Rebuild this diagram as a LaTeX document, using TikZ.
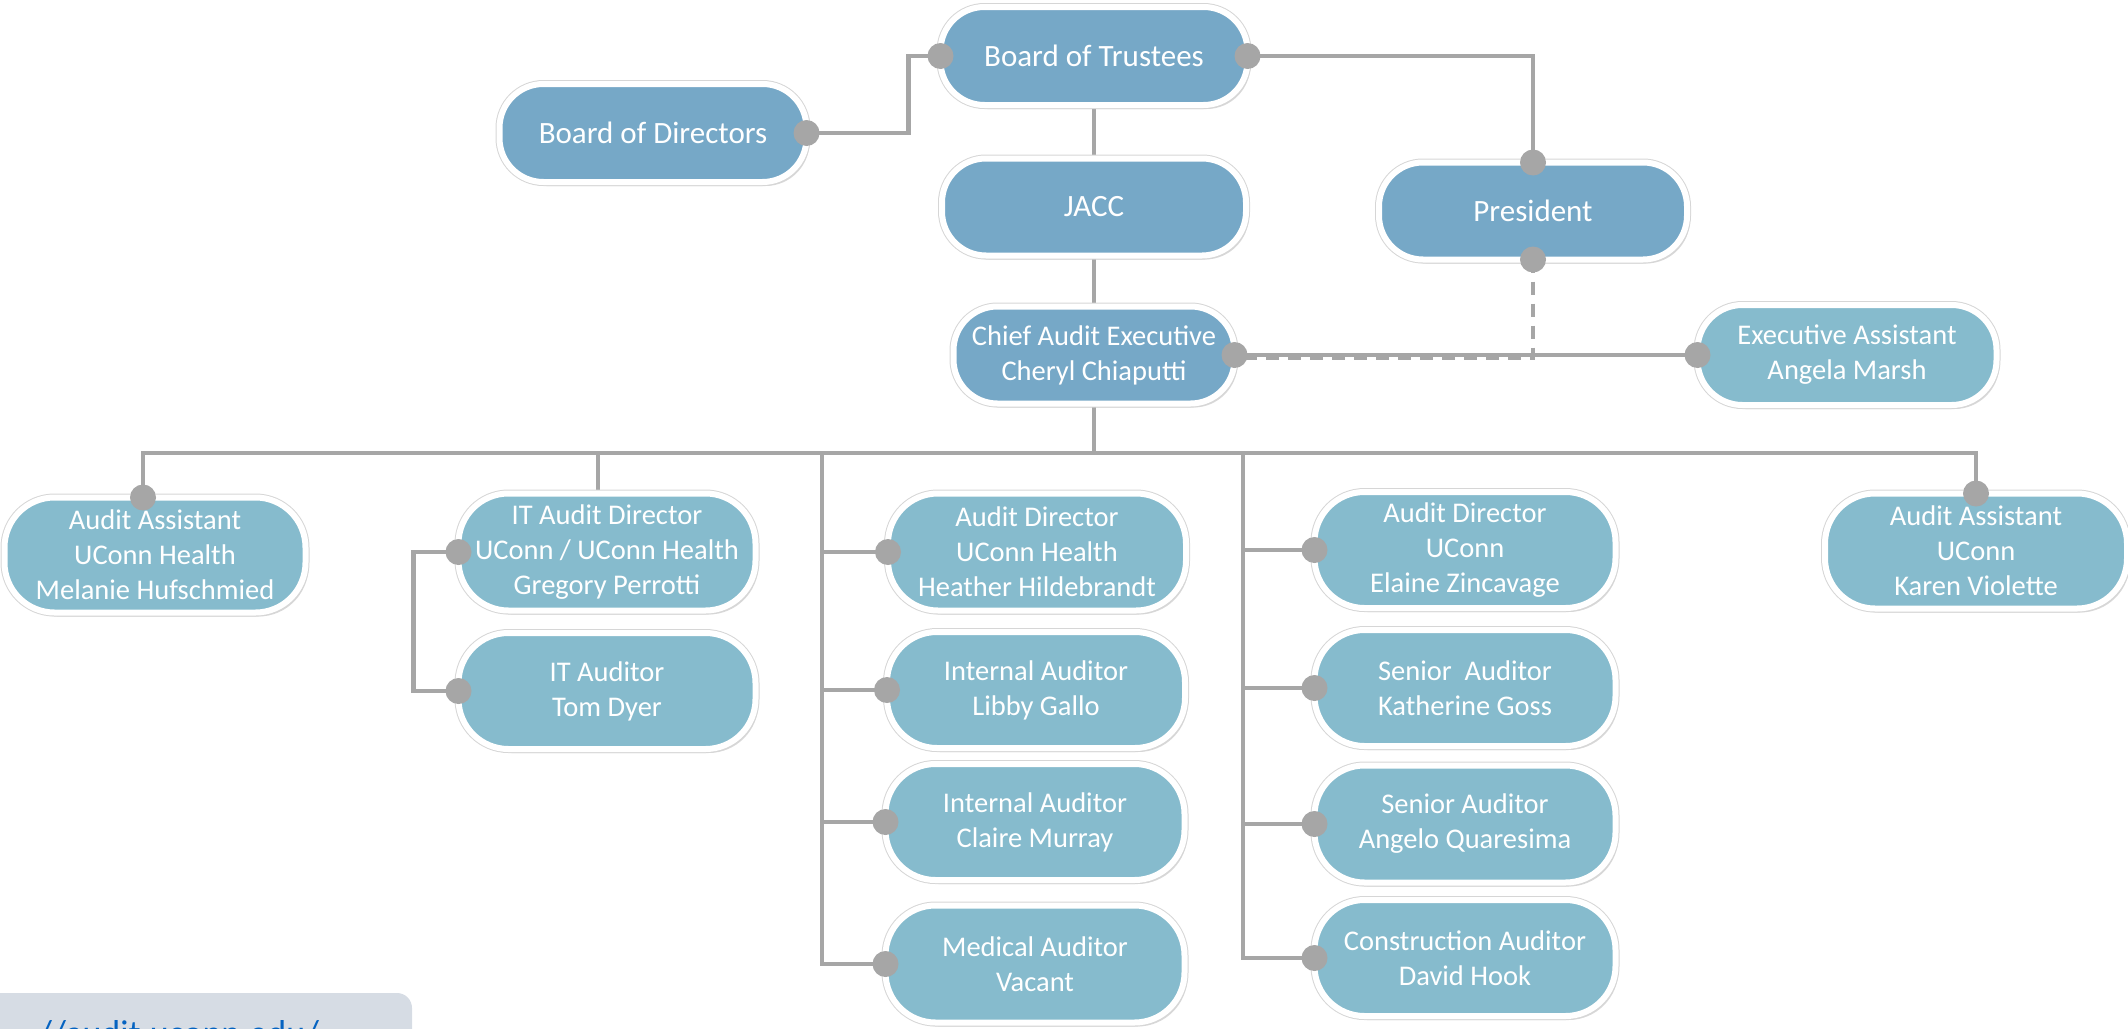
\documentclass[tikz,border=0pt]{standalone}
\usepackage{fontspec}
\setmainfont{Carlito}
\usetikzlibrary{shadows}
\definecolor{topblue}{RGB}{118,168,199}
\definecolor{lowblue}{RGB}{134,187,205}
\definecolor{linegrey}{RGB}{166,166,166}
\definecolor{rimgrey}{RGB}{214,214,214}
\definecolor{urlbg}{RGB}{214,220,228}
\definecolor{urlblue}{RGB}{5,99,193}
\pgfdeclarelayer{background}
\pgfsetlayers{background,main}
\tikzset{
  box/.style={rectangle, rounded corners=44pt, draw=white, line width=6pt,
    text=white, align=center, inner sep=0pt, outer sep=0pt,
    drop shadow={opacity=0.3, shadow xshift=3pt, shadow yshift=-4pt},
    preaction={draw=rimgrey, line width=8pt}},
  topbox/.style={box, fill=topblue, font=\fontsize{31}{38}\selectfont},
  lowbox/.style={box, fill=lowblue, font=\fontsize{28.5}{35}\selectfont, rounded corners=50pt},
  conn/.style={draw=linegrey, line width=4.5pt},
  dashconn/.style={conn, dash pattern=on 13pt off 9pt},
  dot/.style={fill=linegrey},
}
\begin{document}
\begin{tikzpicture}[x=1pt,y=-1pt]
\useasboundingbox (0,0) rectangle (2128,1028);
\clip (0,0) rectangle (2128,1028);
% top level
\node[topbox, minimum width=307, minimum height=98] (dir) at (653,133) {Board of Directors};
\node[topbox, minimum width=307, minimum height=98] (trust) at (1094,56) {Board of Trustees};
\node[topbox, minimum width=304, minimum height=97] (jacc) at (1094,207) {JACC};
\node[topbox, minimum width=308, minimum height=97] (pres) at (1533,211) {President};
\node[topbox, font=\fontsize{28.5}{35}\selectfont, minimum width=281, minimum height=97] (cae) at (1094,355) {Chief Audit Executive\\Cheryl Chiaputti};
\node[lowbox, rounded corners=45pt, minimum width=299, minimum height=100] (ea) at (1847,355) {Executive Assistant\\Angela Marsh};
% second level
\node[lowbox, minimum width=301, minimum height=115] (aa1) at (155,555) {Audit Assistant\\UConn Health\\Melanie Hufschmied};
\node[lowbox, minimum width=297, minimum height=117] (itd) at (607,552) {IT Audit Director\\UConn / UConn Health\\Gregory Perrotti};
\node[lowbox, minimum width=297, minimum height=116] (tom) at (607,691) {IT Auditor\\Tom Dyer};
\node[lowbox, minimum width=298, minimum height=117] (ad1) at (1037,552) {Audit Director\\UConn Health\\Heather Hildebrandt};
\node[lowbox, minimum width=298, minimum height=116] (libby) at (1036,690) {Internal Auditor\\Libby Gallo};
\node[lowbox, minimum width=299, minimum height=116] (claire) at (1035,822) {Internal Auditor\\Claire Murray};
\node[lowbox, minimum width=299, minimum height=117] (med) at (1035,964) {Medical Auditor\\Vacant};
\node[lowbox, minimum width=301, minimum height=116] (elaine) at (1465,550) {Audit Director\\UConn\\Elaine Zincavage};
\node[lowbox, minimum width=301, minimum height=116] (kath) at (1465,688) {Senior~ Auditor\\Katherine Goss};
\node[lowbox, minimum width=301, minimum height=117] (angelo) at (1465,824) {Senior Auditor\\Angelo Quaresima};
\node[lowbox, minimum width=301, minimum height=116] (constr) at (1465,958) {Construction Auditor\\David Hook};
\node[lowbox, minimum width=302, minimum height=115] (karen) at (1976,551) {Audit Assistant\\UConn\\Karen Violette};
% url strip
\fill[urlbg, rounded corners=15pt] (-30,993) rectangle (412,1080);
\node[text=urlblue, font=\fontsize{36}{40}\selectfont, anchor=base west, inner sep=0pt] (url) at (38,1045) {//audit.uconn.edu/};
% junctions
\coordinate (bus) at (1094,453);
\coordinate (lt) at (822,453);
\coordinate (rt) at (1243,453);
\begin{pgfonlayer}{background}
\draw[conn] (dir.east) -| ([xshift=-32pt]trust.west) -- (trust.west);
\draw[conn] (trust.east) -| (pres.north);
\draw[conn] (trust.south) -- (jacc.north);
\draw[conn] (jacc.south) -- (cae.north);
\draw[conn] (cae.east) -- (ea.west);
\draw[dashconn] (pres.south) |- ([yshift=-2.5pt]cae.east);
\draw[conn] (cae.south) -- (bus);
\draw[conn] ([xshift=-12pt]aa1.north) |- (bus) -| (karen.north);
\draw[conn] ([xshift=-9pt]itd.north) -- ([xshift=-9pt]itd.north |- bus);
\draw[conn] (itd.west) -- ++(-45,0) |- (tom.west);
\draw[conn] (lt) |- (ad1.west);
\draw[conn] (lt) |- (libby.west);
\draw[conn] (lt) |- (claire.west);
\draw[conn] (lt) |- (med.west);
\draw[conn] (rt) |- (elaine.west);
\draw[conn] (rt) |- (kath.west);
\draw[conn] (rt) |- (angelo.west);
\draw[conn] (rt) |- (constr.west);
\end{pgfonlayer}
% dots
\foreach \a in {dir.east,trust.west,trust.east,pres.north,pres.south,cae.east,ea.west,
  itd.west,tom.west,ad1.west,libby.west,claire.west,med.west,
  elaine.west,kath.west,angelo.west,constr.west,karen.north}
  \fill[dot] (\a) circle (13pt);
\fill[dot] ([xshift=-12pt]aa1.north) circle (13pt);
\end{tikzpicture}
\end{document}
